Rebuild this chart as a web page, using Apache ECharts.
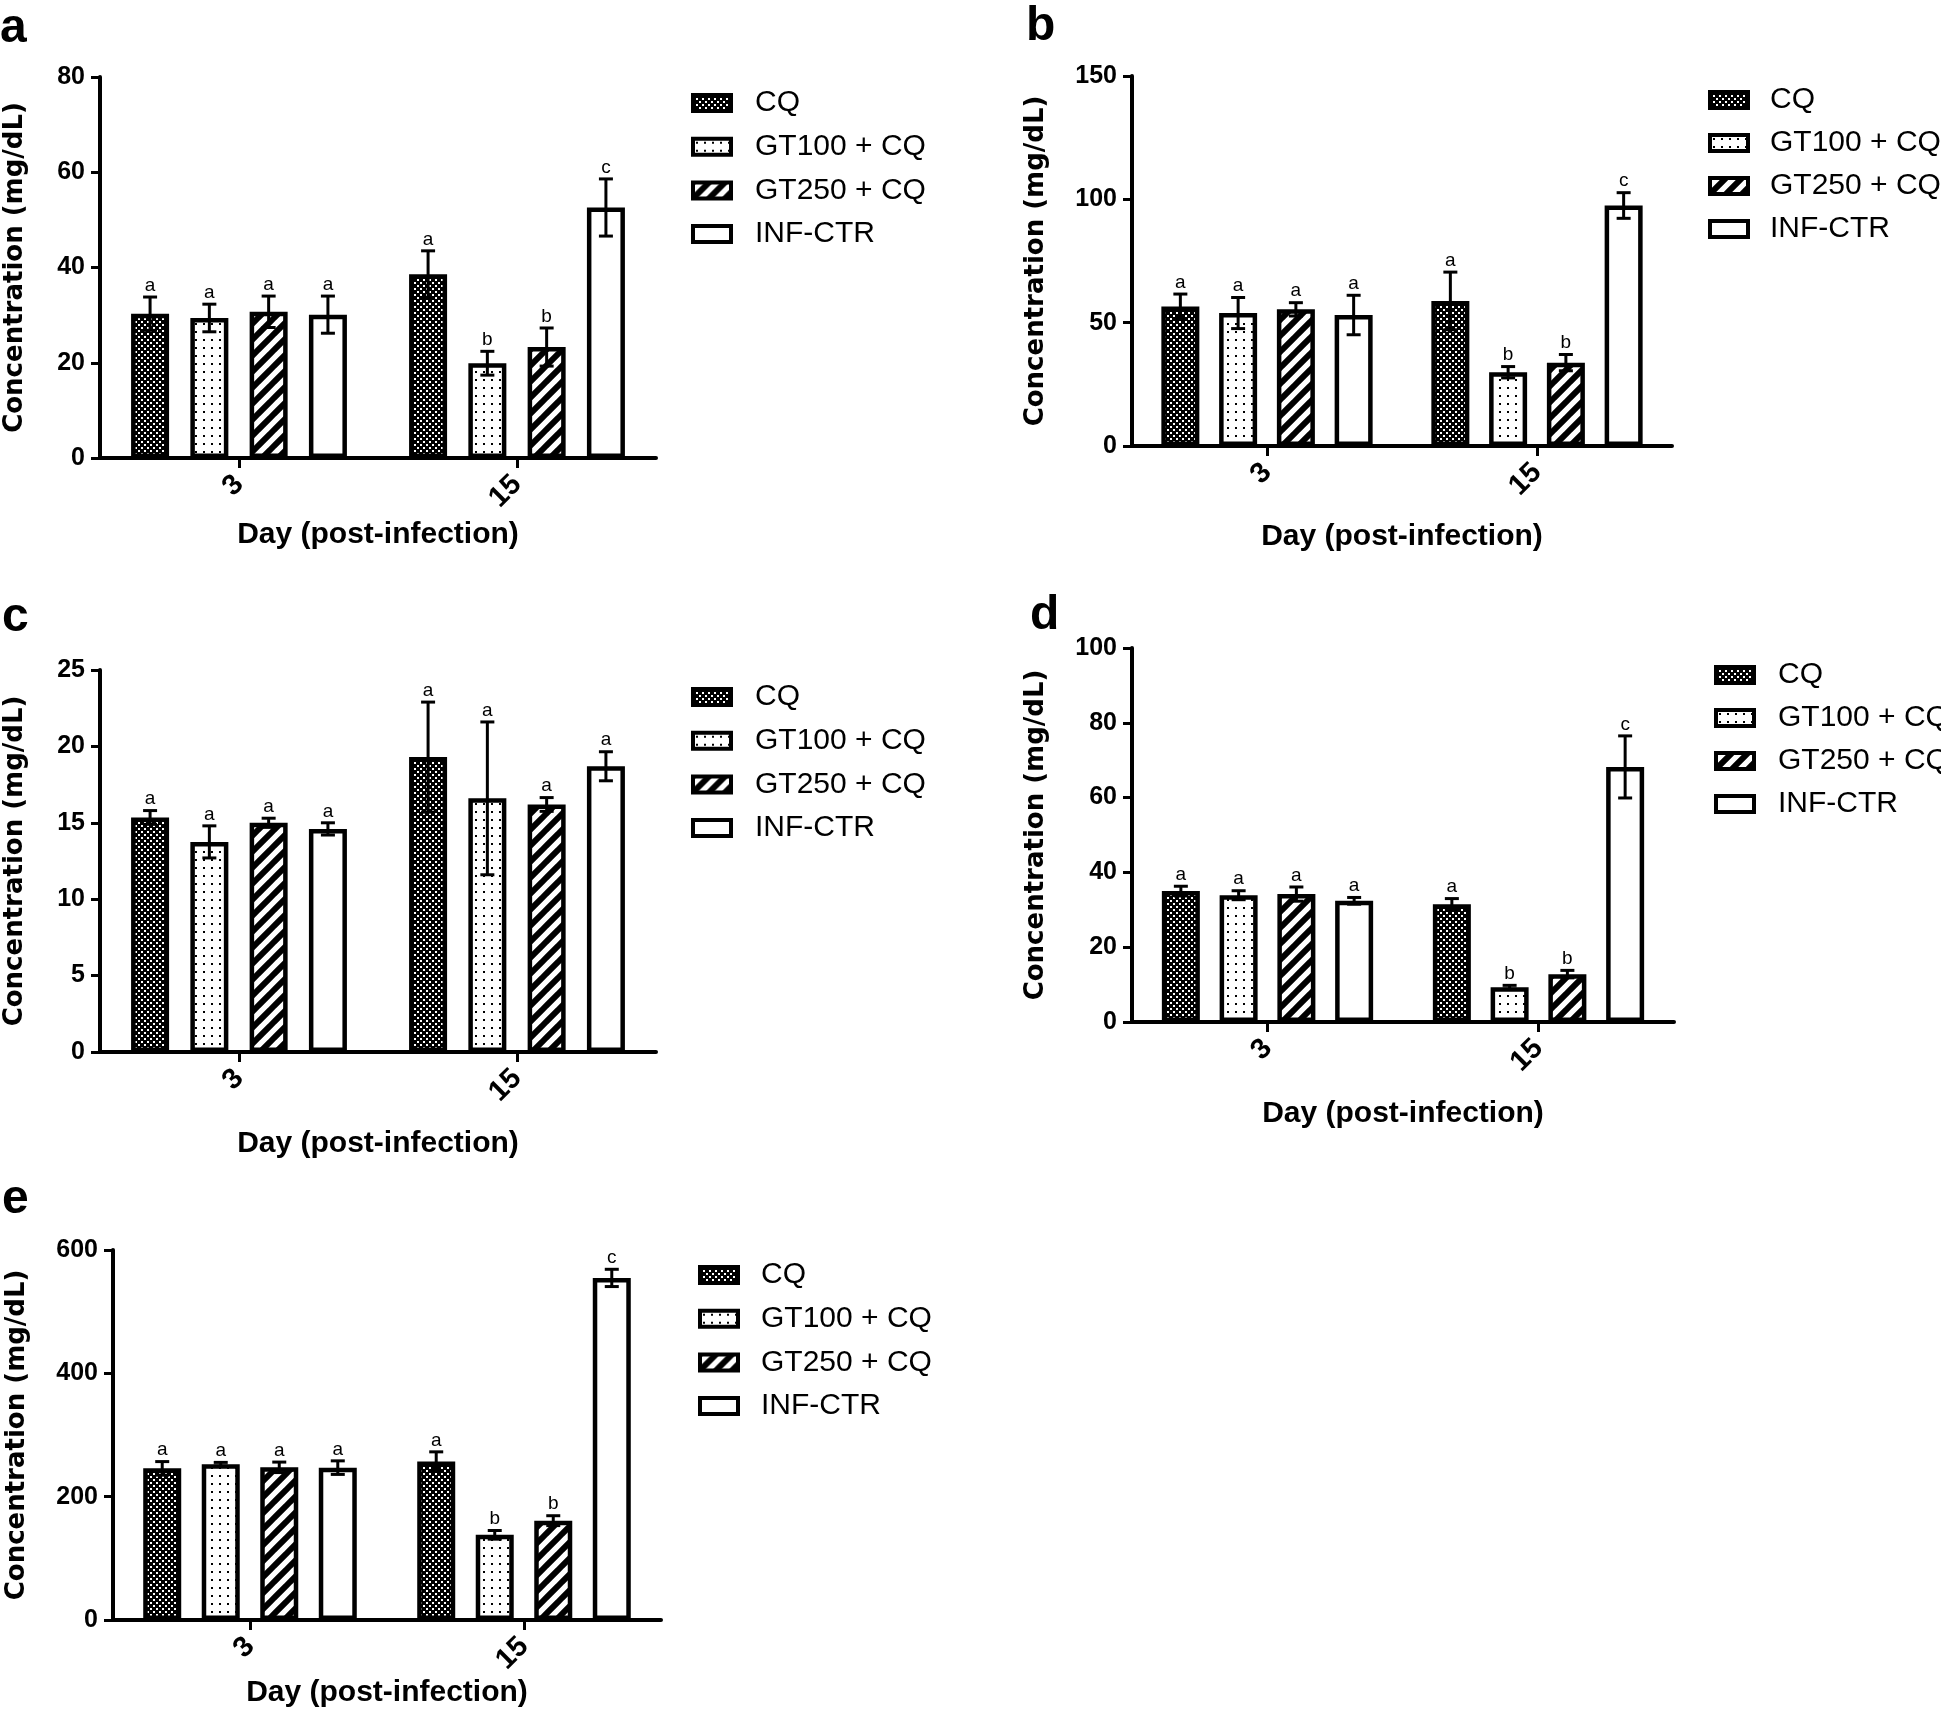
<!DOCTYPE html>
<html><head><meta charset="utf-8">
<script src="https://cdn.jsdelivr.net/npm/echarts@6/dist/echarts.min.js"></script>
<style>html,body{margin:0;padding:0;background:#fff}#c{width:1941px;height:1709px}</style>
</head><body><div id="c"></div>
<script>
// ---------- DATA ----------
const days = ['3', '15'];
const groups = ['CQ', 'GT100 + CQ', 'GT250 + CQ', 'INF-CTR'];
const yTitle = 'Concentration (mg/dL)';
const xTitle = 'Day (post-infection)';

// rows: CQ, GT100+CQ, GT250+CQ, INF-CTR ; columns: day 3, day 15
const aMean = [[30.3, 38.6], [29.4, 19.9], [30.7, 23.3], [30.1, 52.6]];
const aErr  = [[3.5, 4.9], [2.9, 2.5], [3.3, 4.0], [3.9, 6.0]];
const aLet  = [['a', 'a'], ['a', 'b'], ['a', 'b'], ['a', 'c']];

const bMean = [[56.6, 58.8], [53.9, 29.9], [55.4, 33.8], [53.1, 97.5]];
const bErr  = [[5.0, 11.7], [6.3, 2.3], [2.7, 3.3], [8.0, 5.2]];
const bLet  = [['a', 'a'], ['a', 'b'], ['a', 'b'], ['a', 'c']];

const cMean = [[15.35, 19.3], [13.75, 16.6], [15.0, 16.2], [14.6, 18.7]];
const cErr  = [[0.45, 3.6], [1.05, 5.0], [0.3, 0.45], [0.4, 0.95]];
const cLet  = [['a', 'a'], ['a', 'a'], ['a', 'a'], ['a', 'a']];

const dMean = [[35.0, 31.5], [33.9, 9.3], [34.2, 12.8], [32.4, 68.2]];
const dErr  = [[1.3, 1.5], [1.2, 0.5], [1.9, 1.0], [0.9, 8.3]];
const dLet  = [['a', 'a'], ['a', 'b'], ['a', 'b'], ['a', 'c']];

const eMean = [[245.8, 257], [252.5, 138], [247.5, 161], [247, 554.7]];
const eErr  = [[11, 15.6], [3, 7], [8.5, 8], [11, 14]];
const eLet  = [['a', 'a'], ['a', 'b'], ['a', 'b'], ['a', 'c']];

const aTicks = [0, 80, 20];
const bTicks = [0, 150, 50];
const cTicks = [0, 25, 5];
const dTicks = [0, 100, 20];
const eTicks = [0, 600, 200];

// ---------- LAYOUT / STYLE ----------
const panels = [
  {label: 'a', mean: aMean, err: aErr, let: aLet, ticks: aTicks, left: 100, top: 77, width: 556, height: 381, gap: 0.56, yGap: 72, xGap: 62, lgLeft: 691, lgTop: 88, lgGap: 13.7, lgPad: 19, lblX: 0, lblY: 43},
  {label: 'b', mean: bMean, err: bErr, let: bLet, ticks: bTicks, left: 1132, top: 76, width: 540, height: 370, gap: 0.52, yGap: 83, xGap: 76, lgLeft: 1708, lgTop: 85, lgGap: 13, lgPad: 17, lblX: 1026, lblY: 41},
  {label: 'c', mean: cMean, err: cErr, let: cLet, ticks: cTicks, left: 100, top: 670, width: 556, height: 382, gap: 0.56, yGap: 72, xGap: 77, lgLeft: 691, lgTop: 682, lgGap: 13.7, lgPad: 19, lblX: 2, lblY: 632},
  {label: 'd', mean: dMean, err: dErr, let: dLet, ticks: dTicks, left: 1132, top: 648, width: 542, height: 374, gap: 0.52, yGap: 83, xGap: 77, lgLeft: 1714, lgTop: 660, lgGap: 13, lgPad: 19, lblX: 1030, lblY: 630},
  {label: 'e', mean: eMean, err: eErr, let: eLet, ticks: eTicks, left: 113, top: 1250, width: 548, height: 375, gap: 0.54, yGap: 83, xGap: 51, lgLeft: 698, lgTop: 1260, lgGap: 13.7, lgPad: 18, lblX: 2, lblY: 1214}
];
const BAR_W = 38;
const SANS = '"Liberation Sans", Arial, sans-serif';
const WIDE = '"DejaVu Sans", Verdana, sans-serif';

function makeCanvas(w, h, draw) {
  const c = document.createElement('canvas');
  c.width = w; c.height = h;
  draw(c.getContext('2d'));
  return c;
}
const checker = makeCanvas(6, 6, g => {
  g.fillStyle = '#000'; g.fillRect(0, 0, 6, 6);
  g.fillStyle = '#fff'; g.fillRect(0, 0, 2, 2); g.fillRect(3, 3, 2, 2);
});
const dots = makeCanvas(8, 8, g => {
  g.fillStyle = '#fff'; g.fillRect(0, 0, 8, 8);
  g.fillStyle = '#000'; g.fillRect(3, 3, 2, 2);
});
const stripes = makeCanvas(16, 16, g => {
  g.fillStyle = '#fff'; g.fillRect(0, 0, 16, 16);
  g.strokeStyle = '#000'; g.lineWidth = 6; g.lineCap = 'square';
  g.beginPath();
  g.moveTo(-2, 18); g.lineTo(18, -2);
  g.moveTo(-2, 2); g.lineTo(2, -2);
  g.moveTo(14, 18); g.lineTo(18, 14);
  g.stroke();
});
const fills = [
  {image: checker, repeat: 'repeat'},
  {image: dots, repeat: 'repeat'},
  {image: stripes, repeat: 'repeat'},
  '#fff'
];

const grid = [], xAxis = [], yAxis = [], series = [], legend = [], graphic = [];

panels.forEach((p, pi) => {
  grid.push({left: p.left, top: p.top, width: p.width, height: p.height, containLabel: false});
  xAxis.push({
    type: 'category', gridIndex: pi, data: days, boundaryGap: true,
    axisLine: {show: true, lineStyle: {color: '#000', width: 4}},
    axisTick: {show: true, alignWithLabel: true, length: 10, lineStyle: {color: '#000', width: 3}},
    axisLabel: {rotate: 45, fontSize: 29, fontWeight: 'bold', fontFamily: SANS, color: '#000', margin: 22},
    splitLine: {show: false},
    name: xTitle, nameLocation: 'middle', nameGap: p.xGap,
    nameTextStyle: {fontSize: 30, fontWeight: 'bold', fontFamily: SANS, color: '#000'}
  });
  yAxis.push({
    type: 'value', gridIndex: pi, min: p.ticks[0], max: p.ticks[1], interval: p.ticks[2],
    axisLine: {show: true, lineStyle: {color: '#000', width: 4}},
    axisTick: {show: true, length: 9, lineStyle: {color: '#000', width: 3}},
    axisLabel: {fontSize: 25, fontWeight: 'bold', fontFamily: SANS, color: '#000', margin: 15},
    splitLine: {show: false},
    name: yTitle, nameLocation: 'middle', nameGap: p.yGap, nameRotate: 90,
    nameTextStyle: {fontSize: 26, fontWeight: 'bold', fontFamily: WIDE, color: '#000'}
  });
  const pitch = BAR_W * (1 + p.gap);
  groups.forEach((gName, gi) => {
    series.push({
      type: 'bar', name: gName, xAxisIndex: pi, yAxisIndex: pi,
      data: p.mean[gi], barWidth: BAR_W, barGap: (p.gap * 100) + '%',
      itemStyle: {color: fills[gi], borderColor: '#000', borderWidth: 4.5},
      silent: true
    });
  });
  groups.forEach((gName, gi) => {
    series.push({
      type: 'custom', xAxisIndex: pi, yAxisIndex: pi, silent: true, clip: false,
      encode: {x: 0, y: 1}, z: 5,
      data: days.map((d, di) => [di, p.mean[gi][di], p.err[gi][di]]),
      renderItem: (params, api) => {
        const ci = api.value(0), v = api.value(1), e = api.value(2);
        const x = api.coord([ci, v])[0] + (gi - 1.5) * pitch;
        const yT = api.coord([ci, v + e])[1];
        const yB = api.coord([ci, v - e])[1];
        const ls = {stroke: '#000', lineWidth: 3};
        return {type: 'group', children: [
          {type: 'line', shape: {x1: x, y1: yT, x2: x, y2: yB}, style: ls},
          {type: 'line', shape: {x1: x - 7, y1: yT, x2: x + 7, y2: yT}, style: ls},
          {type: 'line', shape: {x1: x - 7, y1: yB, x2: x + 7, y2: yB}, style: ls},
          {type: 'text', style: {text: p.let[gi][ci], x: x, y: yT - 2,
            textAlign: 'center', textVerticalAlign: 'bottom', align: 'center', verticalAlign: 'bottom',
            font: '19px ' + SANS, fill: '#000'}}
        ]};
      }
    });
  });
  legend.push({
    data: groups, orient: 'vertical', left: p.lgLeft, top: p.lgTop, padding: 0,
    itemWidth: 38, itemHeight: 16, itemGap: p.lgGap, icon: 'rect', selectedMode: false,
    itemStyle: {borderColor: '#000', borderWidth: 4},
    formatter: '{t|{name}}',
    textStyle: {color: '#000', rich: {t: {fontSize: 30, fontFamily: SANS, color: '#000', lineHeight: 30, padding: [0, 0, 0, p.lgPad]}}}
  });
  graphic.push({
    type: 'text', left: p.lblX, top: p.lblY - 38,
    style: {text: p.label, font: 'bold 48px ' + SANS, fill: '#000'}
  });
});

const chart = echarts.init(document.getElementById('c'), null, {renderer: 'canvas'});
chart.setOption({animation: false, backgroundColor: '#fff', grid, xAxis, yAxis, series, legend, graphic});
</script>
</body></html>
